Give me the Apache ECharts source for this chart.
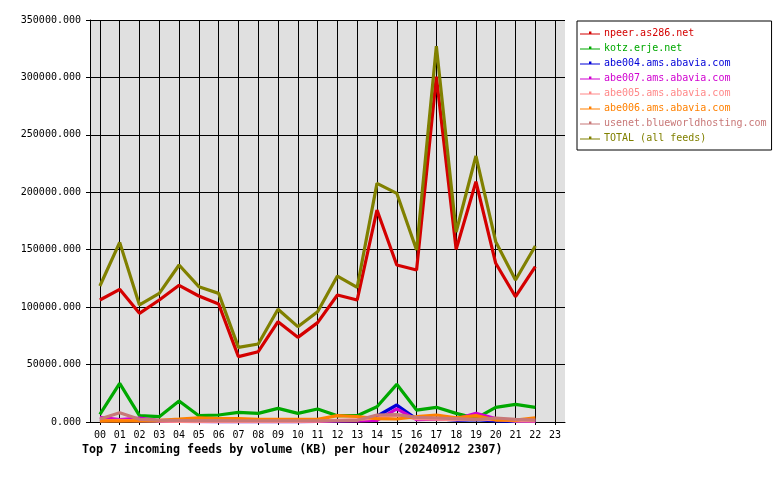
<!DOCTYPE html>
<html>
<head>
<meta charset="utf-8">
<script src="https://cdn.jsdelivr.net/npm/echarts@6/dist/echarts.min.js"></script>
<style>html,body{margin:0;padding:0;background:#fff}#c{width:780px;height:480px}</style>
</head>
<body>
<div id="c"></div>
<script>
const hours = ['00','01','02','03','04','05','06','07','08','09','10','11','12','13','14','15','16','17','18','19','20','21','22','23'];
const titleText = 'Top 7 incoming feeds by volume (KB) per hour (20240912 2307)';
const yTicks = [0, 50000, 100000, 150000, 200000, 250000, 300000, 350000];

const seriesNames = ['npeer.as286.net','kotz.erje.net','abe004.ams.abavia.com','abe007.ams.abavia.com','abe005.ams.abavia.com','abe006.ams.abavia.com','usenet.blueworldhosting.com','TOTAL (all feeds)'];
const seriesColors = ['#d40000','#00a800','#0000d8','#d000d0','#ff8888','#ff8000','#c87878','#808000'];

const npeer  = [106200,115500,94600,106200,119000,109700,102700,56900,61200,87300,73700,86500,110600,106200,184600,136700,132300,300600,150300,209200,138200,109100,135200];
const kotz   = [6700,33700,5500,4600,18300,5500,6100,8400,7500,11900,7500,11300,5500,5500,13300,32800,10400,12800,7500,3200,12800,15400,12800];
const abe004 = [2000,1500,2500,1000,500,500,300,300,300,300,300,500,1000,1500,5000,14800,2500,3000,1500,2000,1000,500,500];
const abe007 = [4000,2200,3500,1000,500,300,300,300,300,300,300,500,1000,1000,1500,11500,2000,2500,2500,7500,3000,1000,500];
const abe005 = [1000,1500,1000,800,500,500,500,500,500,500,500,800,1500,2000,3500,6000,3000,2500,2000,2500,2000,1000,1000];
const abe006 = [1000,1000,1200,1500,2500,3700,3000,3000,2300,2300,2300,2300,5500,4800,3000,2600,4600,6100,3700,5500,1700,1700,3700];
const usenet = [2600,8100,2300,1700,1300,1200,1200,1100,1100,1100,1100,1100,1100,1500,6100,6400,4000,3500,3000,2000,3500,2300,1700];
const total  = [118400,156400,101900,112000,136700,117800,112000,65000,67900,98100,83000,96000,127100,117300,207800,199100,149700,327300,165400,231600,157000,123600,153200];

const values = [npeer,kotz,abe004,abe007,abe005,abe006,usenet,total];

const mono = 'DejaVu Sans Mono';
const chart = echarts.init(document.getElementById('c'), null, {renderer:'canvas'});
chart.setOption({
  animation: false,
  backgroundColor: '#ffffff',
  title: {
    text: titleText, left: 82, top: 444, padding: 0,
    textStyle: {fontFamily: mono, fontSize: 11.65, fontWeight: 'bold', color: '#000'}
  },
  legend: {
    orient: 'vertical', left: 577, top: 21,
    padding: [7, 5, 7, 3],
    itemWidth: 20, itemHeight: 8, itemGap: 5,
    borderColor: '#000', borderWidth: 1, borderRadius: 0,
    icon: 'path://M0,3.5h20v1.2h-20z M9,1.5h2.4v3h-2.4z',
    textStyle: {fontFamily: mono, fontSize: 10, lineHeight: 10, padding: [0,0,0,-1]},
    data: seriesNames.map((n, i) => ({name: n, textStyle: {color: seriesColors[i]}}))
  },
  grid: {left: 90, top: 20, right: 215, bottom: 58, show: true, backgroundColor: '#e0e0e0', borderWidth: 0},
  xAxis: {
    type: 'category', data: hours, boundaryGap: true,
    axisLine: {show: true, lineStyle: {color: '#000', width: 1}},
    axisTick: {show: true, alignWithLabel: true, length: 3, lineStyle: {color: '#000'}},
    axisLabel: {fontFamily: mono, fontSize: 10, color: '#000', margin: 8, interval: 0},
    splitLine: {show: true, alignWithLabel: true, lineStyle: {color: '#000', width: 1}}
  },
  yAxis: {
    type: 'value', min: yTicks[0], max: yTicks[yTicks.length-1], interval: yTicks[1]-yTicks[0],
    axisLine: {show: true, lineStyle: {color: '#000', width: 1}},
    axisTick: {show: true, length: 4, lineStyle: {color: '#000'}},
    axisLabel: {fontFamily: mono, fontSize: 10, color: '#000', margin: 9, formatter: v => v.toFixed(3)},
    splitLine: {show: true, lineStyle: {color: '#000', width: 1}}
  },
  series: seriesNames.map((n, i) => ({
    name: n, type: 'line', data: values[i], symbol: 'none', showSymbol: false,
    lineStyle: {color: seriesColors[i], width: 3.2}, itemStyle: {color: seriesColors[i]},
    emphasis: {disabled: true}
  }))
});
</script>
</body>
</html>
